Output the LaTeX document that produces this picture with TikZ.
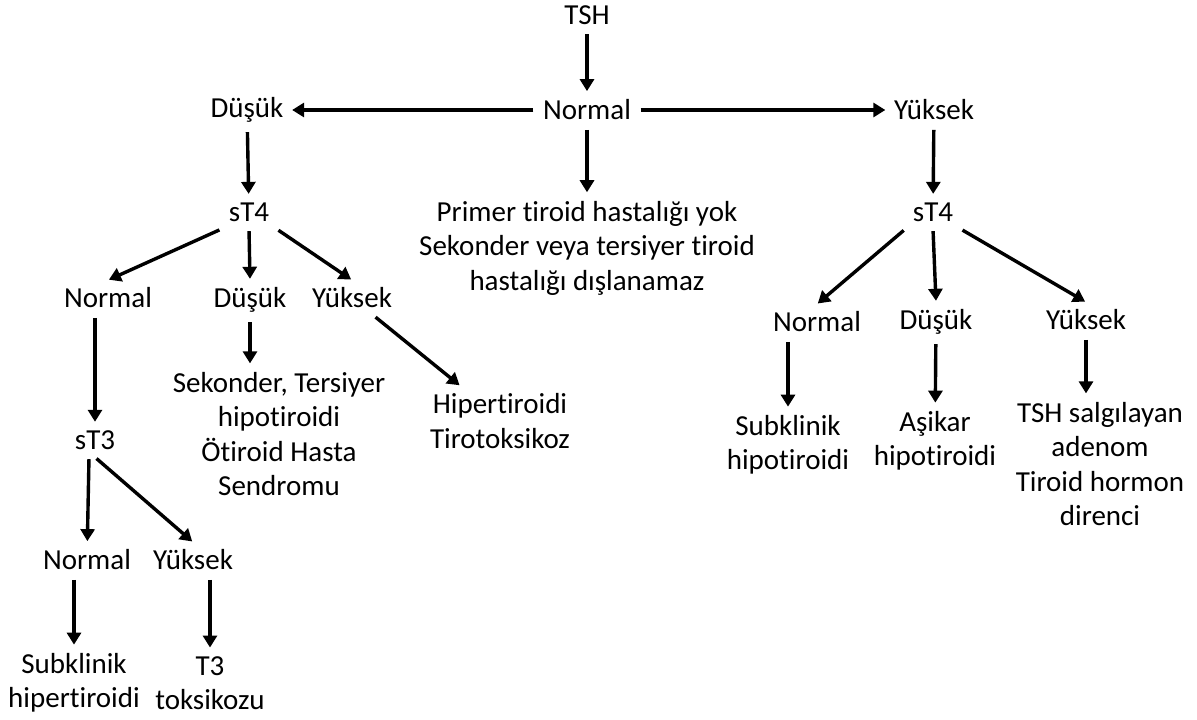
\documentclass[tikz,border=0pt]{standalone}
\usepackage{fontspec}
\setmainfont{Carlito}[Ligatures={NoCommon}]
\usetikzlibrary{arrows.meta}
\begin{document}
\begin{tikzpicture}[x=1pt,y=-1pt,
  every node/.style={font=\fontsize{29}{34.5}\selectfont,align=center,inner sep=6pt},
  >={Triangle[width=14pt,length=12pt]},line width=3.4pt,
  every edge/.style={draw,shorten <=2pt,shorten >=1pt}]
\useasboundingbox (0,0) rectangle (1197,720);
\node(tsh) at (587,15)          {TSH};
\node(nrm) at (587,110)         {Normal};
\node(lo) at (247,110)          {Düşük};
\node(hi) at (934,110)          {Yüksek};
\node(prim) at (587,248)        {Primer tiroid hastalığı yok\\Sekonder veya tersiyer tiroid\\hastalığı dışlanamaz};

\node(lt4) at (249,212)         {sT4};
\node(lnrm) at (108,298)        {Normal};
\node(llo) at (250,300)         {Düşük};
\node(lhi) at (352,298)         {Yüksek};
\node(lt3) at (95,440)          {sT3};
\node(sek) at (279,434)         {Sekonder, Tersiyer\\hipotiroidi\\Ötiroid Hasta\\Sendromu};
\node(hip) at (500,421)         {Hipertiroidi\\Tirotoksikoz};
\node(t3n) at (87,560)          {Normal};
\node(t3h) at (193,560)         {Yüksek};
\node(subhi) at (74,683)        {Subklinik\\hipertiroidi};
\node(tox) at (210,683)         {T3\\toksikozu};

\node(rt4) at (933,212)         {sT4};
\node(rnrm) at (817,322)        {Normal};
\node(rlo) at (936,322)         {Düşük};
\node(rhi) at (1086,320)        {Yüksek};
\node(subho) at (788,445)       {Subklinik\\hipotiroidi};
\node(asi) at (935,441)         {Aşikar\\hipotiroidi};
\node(adn) at (1100,464)        {TSH salgılayan\\adenom\\Tiroid hormon\\direnci};

\path [->]
  (tsh)              edge (nrm)
  (nrm)              edge (lo)
  (nrm)              edge (hi)
  (nrm)              edge (prim)
  (lo)               edge (lt4)
  (hi)               edge (rt4)
  (lt4.south west)   edge (lnrm.north)
  (lt4.south)        edge (llo.north)
  (lt4.south east)   edge (lhi.north)
  (lnrm.south -| lt3) edge (lt3)
  (llo.south)        edge (sek.north -| llo)
  ([xshift=22pt]lhi.south) edge ([xshift=38pt]hip.north west)
  ([xshift=-6pt]lt3.south) edge (t3n)
  (lt3.south)        edge (t3h.north)
  (t3n.south -| subhi) edge (subhi)
  (t3h.south -| tox) edge (tox)
  (rt4.south west)   edge (rnrm.north)
  (rt4.south)        edge (rlo.north)
  (rt4.south east)   edge (rhi.north)
  (rnrm.south -| subho) edge (subho)
  (rlo)              edge (asi)
  (rhi)              edge (adn.north -| rhi);

\end{tikzpicture}
\end{document}
